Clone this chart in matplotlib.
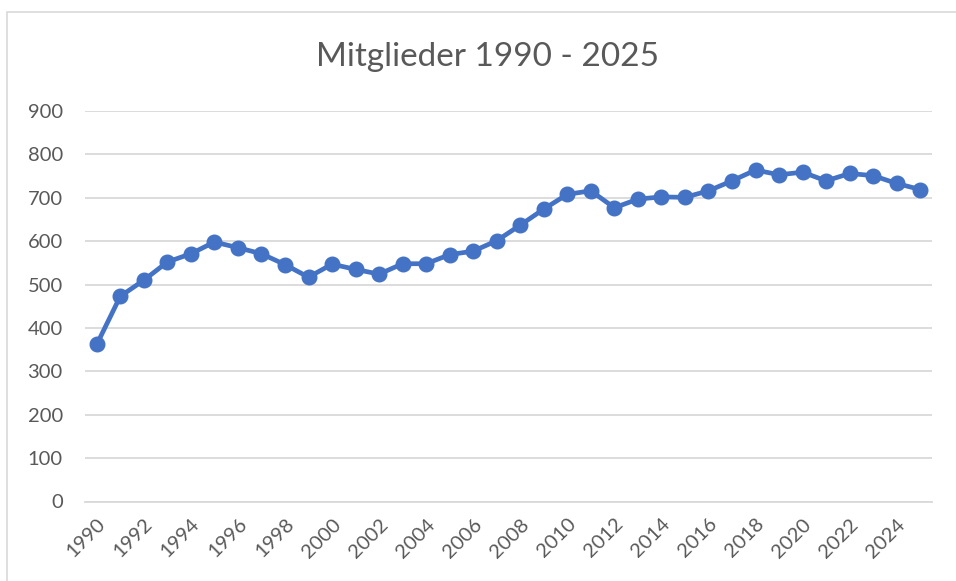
import matplotlib
matplotlib.use("Agg")
import matplotlib.pyplot as plt
from matplotlib.patches import Rectangle

years = list(range(1990, 2026))
members = [362, 473, 510, 552, 571, 598, 585, 571, 546, 517,
           547, 535, 524, 548, 548, 569, 577, 601, 637, 674,
           708, 716, 677, 697, 702, 701, 716, 739, 764, 753,
           759, 739, 756, 751, 733, 719]
y_ticks = list(range(0, 1000, 100))
x_labels = [str(y) for y in years[::2]]

plt.rcParams["font.family"] = ["Lato", "DejaVu Sans"]
text_color = "#595959"
grid_color = "#d9d9d9"

fig = plt.figure(figsize=(9.56, 5.81), dpi=100)
W, H = 956, 581

# chart border (only top and left visible in the crop)
fig.patches.append(Rectangle((7 / W, -0.1), 1.2, 1 - 12 / H + 0.1,
                             transform=fig.transFigure, fill=False,
                             edgecolor=grid_color, linewidth=1.2))

ax = fig.add_axes([85 / W, (H - 501.5) / H, (932 - 85) / W, (501.5 - 111) / H])
idx = list(range(len(years)))
ax.plot(idx, members, color="#4472C4", linewidth=3.4, marker="o",
        markersize=10.5, solid_capstyle="round", zorder=3)

ax.set_xlim(-0.5, len(years) - 0.5)
ax.set_ylim(0, 900)
ax.set_yticks(y_ticks)
ax.set_yticklabels([str(v) for v in y_ticks], fontsize=14.5, color=text_color)
ax.set_xticks(idx[::2])
ax.set_xticklabels(x_labels, fontsize=14.5, color=text_color, rotation=45,
                   ha="right", va="top", rotation_mode="anchor")
ax.tick_params(axis="both", length=0)
ax.tick_params(axis="y", pad=16)
ax.tick_params(axis="x", pad=10)
ax.grid(axis="y", color=grid_color, linewidth=1.3)
ax.set_axisbelow(True)
for side in ["top", "right", "left"]:
    ax.spines[side].set_visible(False)
ax.spines["bottom"].set_color(grid_color)
ax.spines["bottom"].set_linewidth(1.3)

fig.text(487 / W, 1 - 57 / H, "Mitglieder 1990 - 2025", ha="center",
         va="center", fontsize=24, color=text_color)

fig.savefig("out.png", dpi=100)
